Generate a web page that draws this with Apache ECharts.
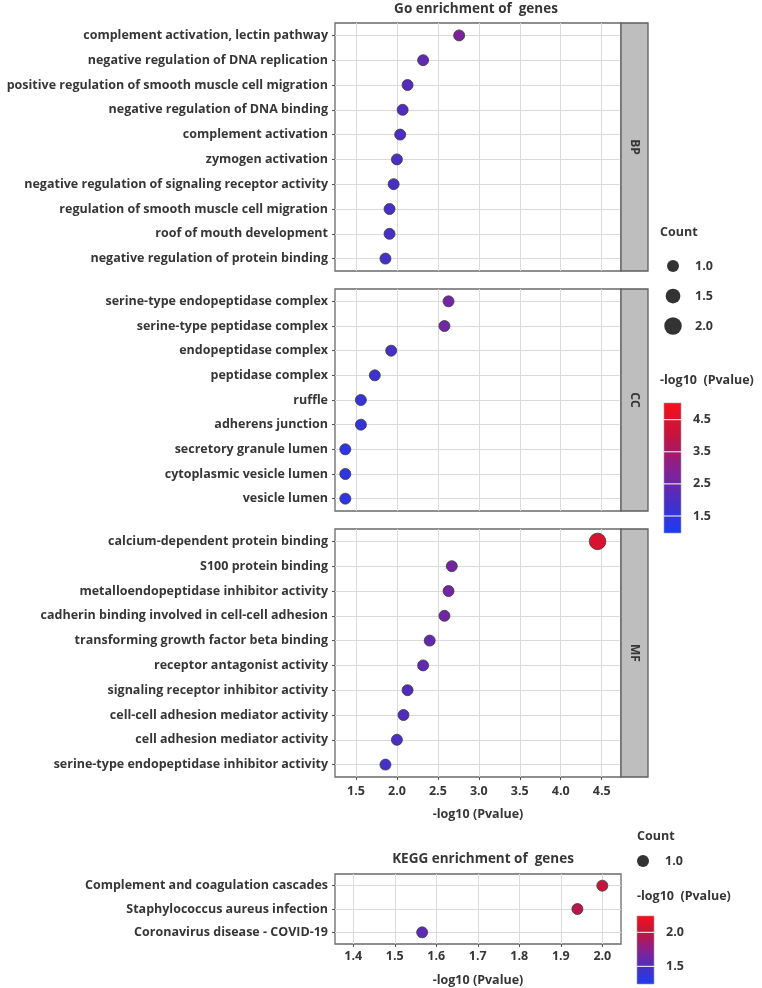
<!DOCTYPE html>
<html>
<head>
<meta charset="utf-8">
<script src="https://cdn.jsdelivr.net/npm/echarts@6/dist/echarts.min.js"></script>
<style>
  html, body { margin: 0; background: #fff; }
  #chart { width: 762px; height: 988px; }
</style>
</head>
<body>
<div id="chart"></div>
<script>
// ---- data ----
const bpTerms = [
  'complement activation, lectin pathway',
  'negative regulation of DNA replication',
  'positive regulation of smooth muscle cell migration',
  'negative regulation of DNA binding',
  'complement activation',
  'zymogen activation',
  'negative regulation of signaling receptor activity',
  'regulation of smooth muscle cell migration',
  'roof of mouth development',
  'negative regulation of protein binding'
];
const bpLogP = [2.76, 2.32, 2.13, 2.07, 2.04, 2.00, 1.96, 1.91, 1.91, 1.86];
const bpCount = [1, 1, 1, 1, 1, 1, 1, 1, 1, 1];

const ccTerms = [
  'serine-type endopeptidase complex',
  'serine-type peptidase complex',
  'endopeptidase complex',
  'peptidase complex',
  'ruffle',
  'adherens junction',
  'secretory granule lumen',
  'cytoplasmic vesicle lumen',
  'vesicle lumen'
];
const ccLogP = [2.63, 2.58, 1.93, 1.73, 1.56, 1.56, 1.37, 1.37, 1.37];
const ccCount = [1, 1, 1, 1, 1, 1, 1, 1, 1];

const mfTerms = [
  'calcium-dependent protein binding',
  'S100 protein binding',
  'metalloendopeptidase inhibitor activity',
  'cadherin binding involved in cell-cell adhesion',
  'transforming growth factor beta binding',
  'receptor antagonist activity',
  'signaling receptor inhibitor activity',
  'cell-cell adhesion mediator activity',
  'cell adhesion mediator activity',
  'serine-type endopeptidase inhibitor activity'
];
const mfLogP = [4.45, 2.67, 2.63, 2.58, 2.40, 2.32, 2.13, 2.08, 2.00, 1.86];
const mfCount = [2, 1, 1, 1, 1, 1, 1, 1, 1, 1];

const keggTerms = [
  'Complement and coagulation cascades',
  'Staphylococcus aureus infection',
  'Coronavirus disease - COVID-19'
];
const keggLogP = [2.00, 1.94, 1.566];
const keggCount = [1, 1, 1];

const goTicks = [1.5, 2.0, 2.5, 3.0, 3.5, 4.0, 4.5];
const keggTicks = [1.4, 1.5, 1.6, 1.7, 1.8, 1.9, 2.0];
const goColorTicks = [1.5, 2.5, 3.5, 4.5];
const keggColorTicks = [1.5, 2.0];
const goCountLevels = [1.0, 1.5, 2.0];
const keggCountLevels = [1.0];

const goRange = [1.244, 4.736];
const keggRange = [1.356, 2.045];
const goColorRange = [0.97, 5.02];
const keggColorRange = [1.24, 2.24];

// ---- style ----
const FONT = '"Open Sans"';
const TEXT = '#363636';
const ramp = ['#1a3cf5', '#4a2ec4', '#8a2090', '#c4143e', '#f5101a'];
const PLOT_LEFT = 335;
const PLOT_W = 286;
const STRIP_W = 27;
const panels = [
  { name: 'BP', top: 23, height: 248 },
  { name: 'CC', top: 289, height: 222 },
  { name: 'MF', top: 529, height: 248 }
];
const kegg = { top: 874, height: 70 };

function dotSize(count) {
  return 11 + (count - 1) * 5.5;
}

function rows(values, counts) {
  return values.map((v, i) => [v, i, counts[i]]);
}

const labelStyle = { color: TEXT, fontFamily: FONT, fontWeight: 'bold', fontSize: 12.5 };

function catAxis(gridIndex, terms) {
  const idx = terms.map((_, i) => i);
  return {
    type: 'value', gridIndex, inverse: true,
    min: -0.5, max: terms.length - 0.5,
    axisLine: { show: false, onZero: false },
    axisTick: { show: true, length: 3, customValues: idx, lineStyle: { color: '#555' } },
    axisLabel: Object.assign({ customValues: idx, margin: 7, formatter: (v) => terms[v] }, labelStyle),
    splitLine: { show: true, lineStyle: { color: '#dadada', width: 1 } }
  };
}

function numAxis(gridIndex, range, ticks, showLabels, name, nameGap, labelMargin) {
  return {
    type: 'value', gridIndex, min: range[0], max: range[1],
    name: showLabels ? name : '',
    nameLocation: 'middle', nameGap,
    nameTextStyle: labelStyle,
    axisLine: { show: false, onZero: false },
    axisTick: { show: showLabels, length: 3, customValues: ticks, lineStyle: { color: '#555' } },
    axisLabel: Object.assign({ show: showLabels, customValues: ticks, margin: labelMargin,
      formatter: (v) => v.toFixed(1) }, labelStyle),
    splitLine: { show: true, lineStyle: { color: '#dadada', width: 1 } }
  };
}

// gradient bar spanning the colour axis
function colorBar(params, api) {
  const cs = params.coordSys;
  const top = api.coord([0.5, api.value(2)]);
  const bot = api.coord([0.5, api.value(1)]);
  return {
    type: 'rect',
    shape: { x: cs.x, y: top[1], width: cs.width, height: bot[1] - top[1] },
    style: {
      fill: new echarts.graphic.LinearGradient(0, 1, 0, 0,
        ramp.map((c, i) => ({ offset: i / (ramp.length - 1), color: c }))),
      stroke: '#9a9a9a', lineWidth: 0.6
    }
  };
}

// white tick line across the bar
function colorTick(params, api) {
  const cs = params.coordSys;
  const p = api.coord([0.5, api.value(1)]);
  return {
    type: 'line',
    shape: { x1: cs.x, y1: p[1], x2: cs.x + cs.width, y2: p[1] },
    style: { stroke: '#fff', lineWidth: 1 }
  };
}

function colorAxis(gridIndex, range, ticks) {
  return {
    type: 'value', gridIndex, position: 'right', min: range[0], max: range[1],
    axisLine: { show: false, onZero: false },
    splitLine: { show: false },
    axisTick: { show: false, customValues: ticks },
    axisLabel: Object.assign({ customValues: ticks, margin: 12, formatter: (v) => v.toFixed(1) }, labelStyle)
  };
}

function countAxis(gridIndex, levels) {
  return {
    type: 'category', gridIndex, position: 'right', inverse: true,
    data: levels.map((v) => v.toFixed(1)),
    axisLine: { show: false }, axisTick: { show: false }, splitLine: { show: false },
    axisLabel: Object.assign({ margin: 15 }, labelStyle)
  };
}

const hiddenX = (gridIndex) => ({ type: 'value', gridIndex, min: 0, max: 1, show: false });

const grid = panels.map((p) => ({
  left: PLOT_LEFT, width: PLOT_W, top: p.top, height: p.height,
  show: true, borderColor: '#6a6a6a', borderWidth: 1.3, backgroundColor: 'transparent'
}));
grid.push({ left: PLOT_LEFT, width: PLOT_W, top: kegg.top, height: kegg.height,
  show: true, borderColor: '#6a6a6a', borderWidth: 1.3, backgroundColor: 'transparent' });
grid.push({ left: 664, width: 17, top: 403, height: 130 });   // GO colour bar
grid.push({ left: 637, width: 17, top: 916, height: 68 });    // KEGG colour bar
grid.push({ left: 666, width: 14, top: 251, height: 90 });    // GO count legend
grid.push({ left: 636, width: 14, top: 850, height: 22 });    // KEGG count legend

const xAxis = [
  numAxis(0, goRange, goTicks, false),
  numAxis(1, goRange, goTicks, false),
  numAxis(2, goRange, goTicks, true, '-log10 (Pvalue)', 31, 8),
  numAxis(3, keggRange, keggTicks, true, '-log10 (Pvalue)', 30, 6),
  hiddenX(4), hiddenX(5), hiddenX(6), hiddenX(7)
];
const yAxis = [
  catAxis(0, bpTerms), catAxis(1, ccTerms), catAxis(2, mfTerms), catAxis(3, keggTerms),
  colorAxis(4, goColorRange, goColorTicks), colorAxis(5, keggColorRange, keggColorTicks),
  countAxis(6, goCountLevels), countAxis(7, keggCountLevels)
];

const dotStyle = { borderColor: '#3a3a3a', borderWidth: 0.8, opacity: 1 };
const dots = (i, data) => ({
  type: 'scatter', xAxisIndex: i, yAxisIndex: i, data,
  symbolSize: (v) => dotSize(v[2]), itemStyle: dotStyle, z: 3
});

const series = [
  dots(0, rows(bpLogP, bpCount)),
  dots(1, rows(ccLogP, ccCount)),
  dots(2, rows(mfLogP, mfCount)),
  dots(3, rows(keggLogP, keggCount)),
  { type: 'custom', xAxisIndex: 4, yAxisIndex: 4, renderItem: colorBar,
    data: [[0.5, goColorRange[0], goColorRange[1]]], encode: { x: 0, y: [1, 2] }, z: 1 },
  { type: 'custom', xAxisIndex: 5, yAxisIndex: 5, renderItem: colorBar,
    data: [[0.5, keggColorRange[0], keggColorRange[1]]], encode: { x: 0, y: [1, 2] }, z: 1 },
  { type: 'custom', xAxisIndex: 4, yAxisIndex: 4, renderItem: colorTick,
    data: goColorTicks.map((t) => [0.5, t]), encode: { x: 0, y: 1 }, z: 2 },
  { type: 'custom', xAxisIndex: 5, yAxisIndex: 5, renderItem: colorTick,
    data: keggColorTicks.map((t) => [0.5, t]), encode: { x: 0, y: 1 }, z: 2 },
  { type: 'scatter', xAxisIndex: 6, yAxisIndex: 6,
    data: goCountLevels.map((c, i) => [0.5, i, c]),
    symbolSize: (v) => dotSize(v[2]) + 1, itemStyle: { color: '#000' } },
  { type: 'scatter', xAxisIndex: 7, yAxisIndex: 7,
    data: keggCountLevels.map((c, i) => [0.5, i, c]),
    symbolSize: (v) => dotSize(v[2]) + 1, itemStyle: { color: '#000' } }
];

const titleText = { color: TEXT, fontFamily: FONT, fontWeight: 'bold', fontSize: 12.5 };
const title = [
  { text: 'Go enrichment of  genes', left: 476, top: 2, textAlign: 'center', padding: 0,
    textStyle: Object.assign({}, titleText, { fontSize: 13.5 }) },
  { text: 'KEGG enrichment of  genes', left: 483, top: 852, textAlign: 'center', padding: 0,
    textStyle: Object.assign({}, titleText, { fontSize: 13.5 }) },
  { text: 'Count', left: 660, top: 226, padding: 0, textStyle: titleText },
  { text: '-log10  (Pvalue)', left: 660, top: 374, padding: 0, textStyle: titleText },
  { text: 'Count', left: 637, top: 830, padding: 0, textStyle: titleText },
  { text: '-log10  (Pvalue)', left: 637, top: 890, padding: 0, textStyle: titleText }
];

// facet strips on the right of each GO panel
const graphic = [];
panels.forEach((p) => {
  graphic.push({
    type: 'rect', z: 5,
    shape: { x: PLOT_LEFT + PLOT_W, y: p.top, width: STRIP_W, height: p.height },
    style: { fill: '#bebebe', stroke: '#5e5e5e', lineWidth: 1.3 }
  });
  graphic.push({
    type: 'text', z: 6,
    x: PLOT_LEFT + PLOT_W + STRIP_W / 2, y: p.top + p.height / 2, rotation: -Math.PI / 2,
    style: { text: p.name, fill: TEXT, font: 'bold 12px ' + FONT, align: 'center', verticalAlign: 'middle' }
  });
});

const chart = echarts.init(document.getElementById('chart'), null, { renderer: 'canvas' });
chart.setOption({
  animation: false,
  backgroundColor: '#fff',
  title,
  grid,
  xAxis,
  yAxis,
  visualMap: [
    { show: false, type: 'continuous', seriesIndex: [0, 1, 2], dimension: 0,
      min: goColorRange[0], max: goColorRange[1], inRange: { color: ramp } },
    { show: false, type: 'continuous', seriesIndex: 3, dimension: 0,
      min: keggColorRange[0], max: keggColorRange[1], inRange: { color: ramp } }
  ],
  series,
  graphic
});
</script>
</body>
</html>
